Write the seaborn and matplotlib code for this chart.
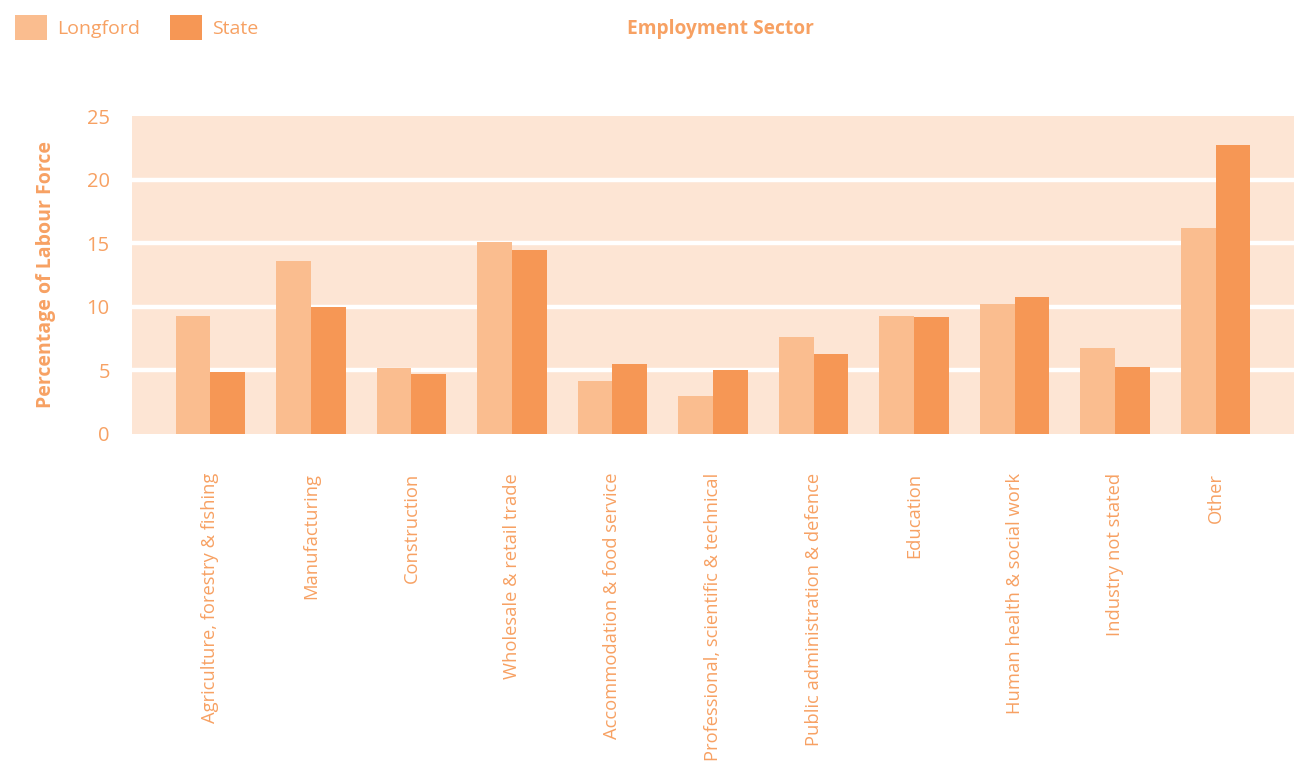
import matplotlib
matplotlib.use("Agg")
import matplotlib.pyplot as plt
import seaborn as sns
import pandas as pd
from matplotlib.patches import Patch

categories = [
    "Agriculture, forestry & fishing",
    "Manufacturing",
    "Construction",
    "Wholesale & retail trade",
    "Accommodation & food service",
    "Professional, scientific & technical",
    "Public administration & defence",
    "Education",
    "Human health & social work",
    "Industry not stated",
    "Other",
]
longford = [9.3, 13.6, 5.2, 15.1, 4.2, 3.0, 7.6, 9.3, 10.2, 6.8, 16.2]
state = [4.9, 10.0, 4.7, 14.5, 5.5, 5.0, 6.3, 9.2, 10.8, 5.3, 22.7]
series_names = ["Longford", "State"]
yticks = [0, 5, 10, 15, 20, 25]

TEXT = "#F7A163"
C_LONG = "#FABD8F"
C_STATE = "#F69755"
BG = "#FDE5D4"

sns.set_theme(style="white")
plt.rcParams["font.family"] = ["Open Sans", "DejaVu Sans"]

df = pd.DataFrame({
    "Sector": categories * 2,
    "Series": [series_names[0]] * len(categories) + [series_names[1]] * len(categories),
    "Value": longford + state,
})

fig = plt.figure(figsize=(12.94, 7.77), dpi=100)
ax = fig.add_axes([132 / 1294, 1 - 434 / 777, 1 - 132 / 1294, (434 - 116) / 777])
ax.set_facecolor(BG)

sns.barplot(data=df, x="Sector", y="Value", hue="Series",
            palette={"Longford": C_LONG, "State": C_STATE},
            width=0.69, saturation=1, ax=ax, legend=False, zorder=3,
            linewidth=0, edgecolor="none")

for y in yticks[1:-1]:
    ax.axhline(y, color="white", lw=3.2, zorder=1)

ax.set_ylim(0, 25)
ax.set_xlim(-0.78, len(categories) - 1 + 0.78)
ax.set_yticks(yticks)
ax.set_yticklabels([str(v) for v in yticks], color=TEXT, fontsize=14.5)
ax.tick_params(axis="y", length=0, pad=16)
ax.tick_params(axis="x", length=0, pad=28)
ax.set_xticks(range(len(categories)))
ax.set_xticklabels(categories, rotation=90, color=TEXT, fontsize=13.2, va="top", ha="center")
for s in ax.spines.values():
    s.set_visible(False)
ax.set_xlabel("")
ax.set_ylabel("Percentage of Labour Force", color=TEXT, fontsize=14, fontweight="bold", labelpad=22)

fig.text(720 / 1294, 1 - 29 / 777, "Employment Sector", color=TEXT, fontsize=13.8,
         fontweight="bold", ha="center", va="center")

handles = [Patch(facecolor=C_LONG, edgecolor="none"), Patch(facecolor=C_STATE, edgecolor="none")]
fig.legend(handles, series_names, loc="upper left", bbox_to_anchor=(0.0, 1.0), ncol=2,
           frameon=False, fontsize=14, labelcolor=TEXT, handlelength=1.65, handleheight=1.65,
           handletextpad=0.55, columnspacing=1.5, borderpad=0.45, borderaxespad=0.3)

fig.savefig("out.png", dpi=100)
